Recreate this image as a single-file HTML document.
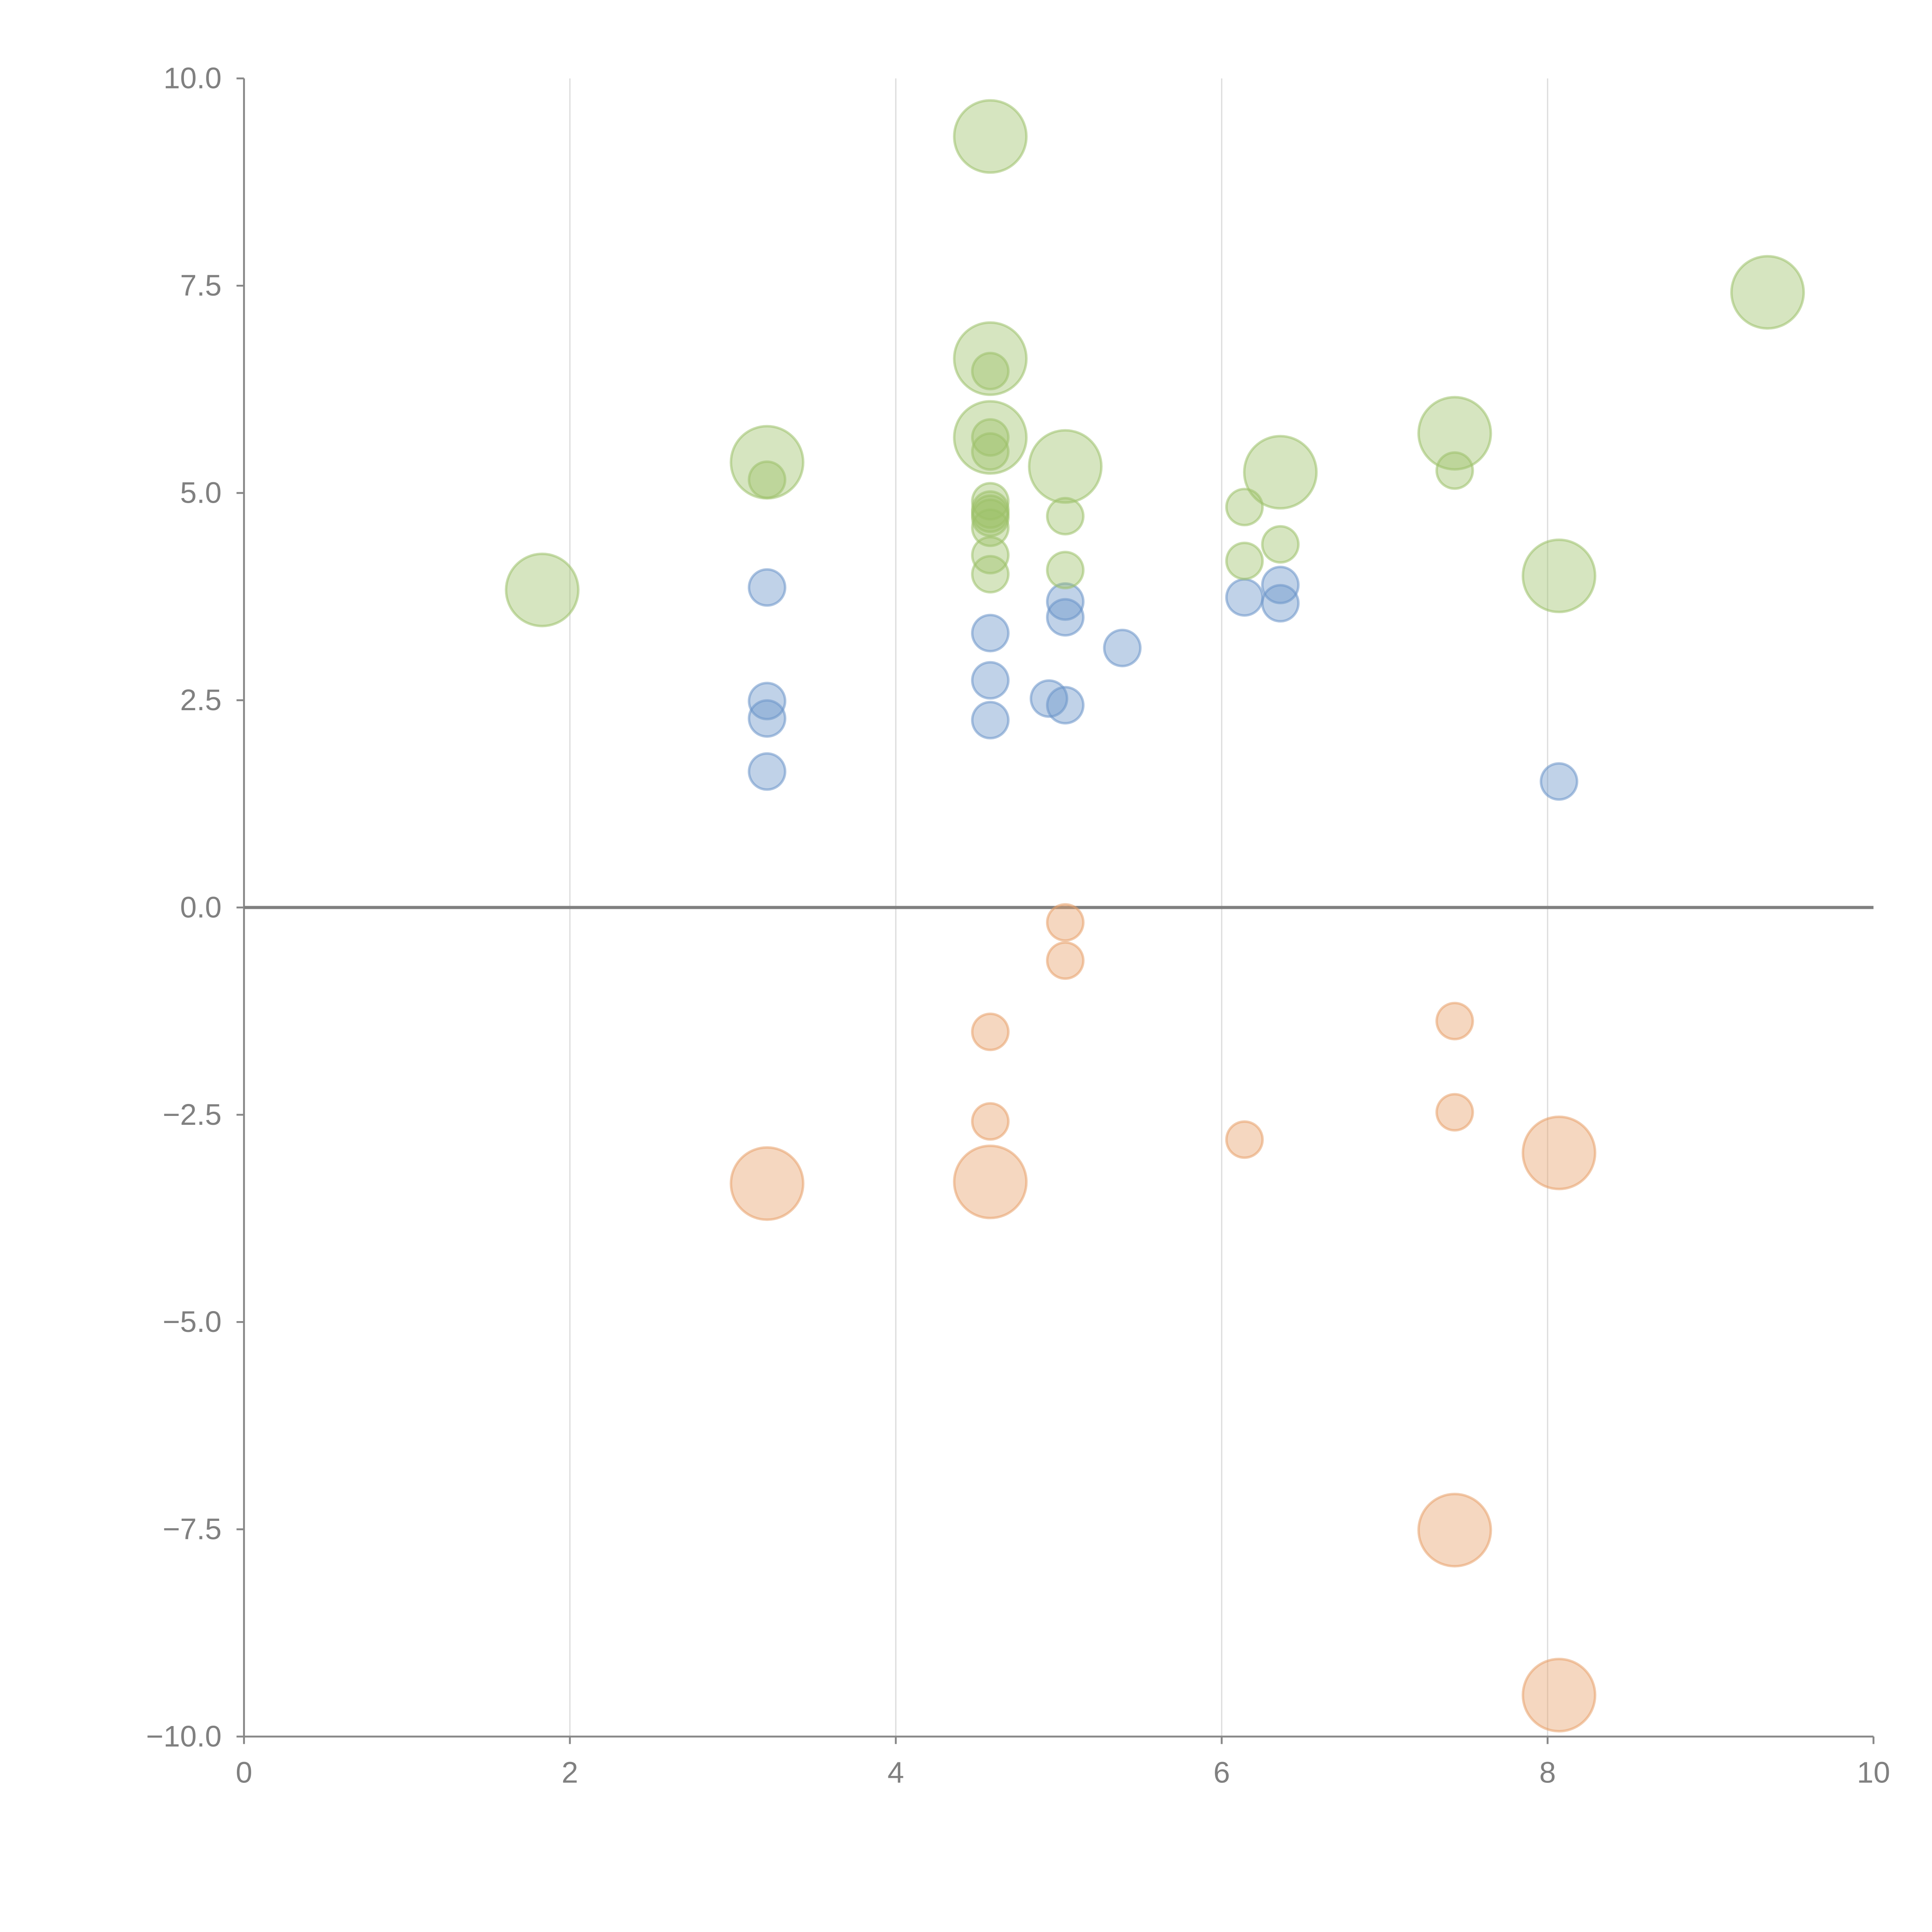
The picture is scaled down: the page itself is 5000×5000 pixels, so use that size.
<!DOCTYPE html>
<html><head><meta charset="utf-8"><style>html,body{margin:0;padding:0;background:#fff}svg{display:block}</style></head>
<body>
<svg id="chart" width="5000" height="5000" viewBox="0 0 1552 1552" xmlns="http://www.w3.org/2000/svg" font-family="'Liberation Sans', sans-serif">
<g id="grid"></g>
<g id="axes"></g>
<g id="marks"></g>
</svg>
<script>
const xTicks = [0, 2, 4, 6, 8, 10];
const yTicks = [10, 7.5, 5, 2.5, 0, -2.5, -5, -7.5, -10];
const yTickLabels = ["10.0", "7.5", "5.0", "2.5", "0.0", "\u22122.5", "\u22125.0", "\u22127.5", "\u221210.0"];
const greenLargeX = [4.58, 4.58, 4.58, 3.21, 5.04, 6.36, 7.43, 8.07, 1.83, 9.35];
const greenLargeY = [9.30, 6.62, 5.67, 5.37, 5.32, 5.25, 5.72, 4.00, 3.83, 7.42];
const greenSmallX = [4.58, 4.58, 4.58, 3.21, 4.58, 4.58, 4.58, 4.58, 4.58, 4.58, 4.58, 5.04, 5.04, 6.14, 6.14, 6.36, 7.43];
const greenSmallY = [6.47, 5.67, 5.50, 5.16, 4.90, 4.80, 4.75, 4.70, 4.58, 4.25, 4.02, 4.72, 4.07, 4.83, 4.18, 4.38, 5.27];
const blueX = [3.21, 3.21, 3.21, 3.21, 4.58, 4.58, 4.58, 4.94, 5.04, 5.04, 5.04, 5.39, 6.14, 6.36, 6.36, 8.07];
const blueY = [3.86, 2.49, 2.28, 1.64, 3.31, 2.74, 2.26, 2.52, 2.44, 3.69, 3.50, 3.13, 3.74, 3.89, 3.67, 1.52];
const orangeSmallX = [5.04, 5.04, 4.58, 4.58, 6.14, 7.43, 7.43];
const orangeSmallY = [-0.18, -0.64, -1.50, -2.58, -2.80, -1.37, -2.47];
const orangeLargeX = [3.21, 4.58, 8.07, 7.43, 8.07];
const orangeLargeY = [-3.33, -3.31, -2.96, -7.51, -9.50];

const L = 196, R = 1505, T = 63, B = 1395;
const sx = v => L + (v - 0) / 10 * (R - L);
const sy = v => B - (v + 10) / 20 * (B - T);
const NS = "http://www.w3.org/2000/svg";
function mk(tag, attrs, parent) {
  const e = document.createElementNS(NS, tag);
  for (const k in attrs) e.setAttribute(k, attrs[k]);
  parent.appendChild(e);
  return e;
}
const grid = document.getElementById('grid');
const axes = document.getElementById('axes');
const marks = document.getElementById('marks');

xTicks.forEach(t => {
  if (t > 0 && t < 10) {
    const g = mk('line', {x1: sx(t), x2: sx(t), y1: T, y2: B, stroke: '#dcdcdc', 'stroke-width': 1}, grid);
    
    
  }
  const tk = mk('line', {x1: sx(t), x2: sx(t), y1: B, y2: B + 6, stroke: '#888', 'stroke-width': 1.5}, axes);
  
  
  const tx = mk('text', {x: sx(t), y: B + 37, 'text-anchor': 'middle', 'font-size': 24, fill: '#808080'}, axes);
  tx.textContent = String(t);
  
  
});
yTicks.forEach((t, i) => {
  const tk = mk('line', {x1: L - 6, x2: L, y1: sy(t), y2: sy(t), stroke: '#888', 'stroke-width': 1.5}, axes);
  
  
  const tx = mk('text', {x: L - 18, y: sy(t) + 8, 'text-anchor': 'end', 'font-size': 24, fill: '#808080'}, axes);
  tx.textContent = yTickLabels[i];
  
  
});
const ya = mk('line', {x1: L, x2: L, y1: T, y2: B, stroke: '#888', 'stroke-width': 1.5}, axes);


const xa = mk('line', {x1: L, x2: R, y1: B, y2: B, stroke: '#888', 'stroke-width': 1.5}, axes);


const zl = mk('line', {x1: L, x2: R, y1: sy(0), y2: sy(0), stroke: '#808080', 'stroke-width': 2.5}, axes);



function series(xs, ys, r, fill, stroke, name) {
  xs.forEach((x, i) => {
    const c = mk('circle', {cx: sx(x), cy: sy(ys[i]), r: r, fill: fill, 'fill-opacity': 0.42, stroke: stroke, 'stroke-opacity': 0.55, 'stroke-width': 2}, marks);
    
    
  });
}
series(blueX, blueY, 14.5, '#6a93c8', '#6a93c8', 'blue-point');
series(greenLargeX, greenLargeY, 29, '#9dc16a', '#9dc16a', 'green-bubble');
series(greenSmallX, greenSmallY, 14.5, '#9dc16a', '#9dc16a', 'green-point');
series(orangeSmallX, orangeSmallY, 14.5, '#e8a06a', '#e8a06a', 'orange-point');
series(orangeLargeX, orangeLargeY, 29, '#e8a06a', '#e8a06a', 'orange-bubble');
</script>
</body></html>
